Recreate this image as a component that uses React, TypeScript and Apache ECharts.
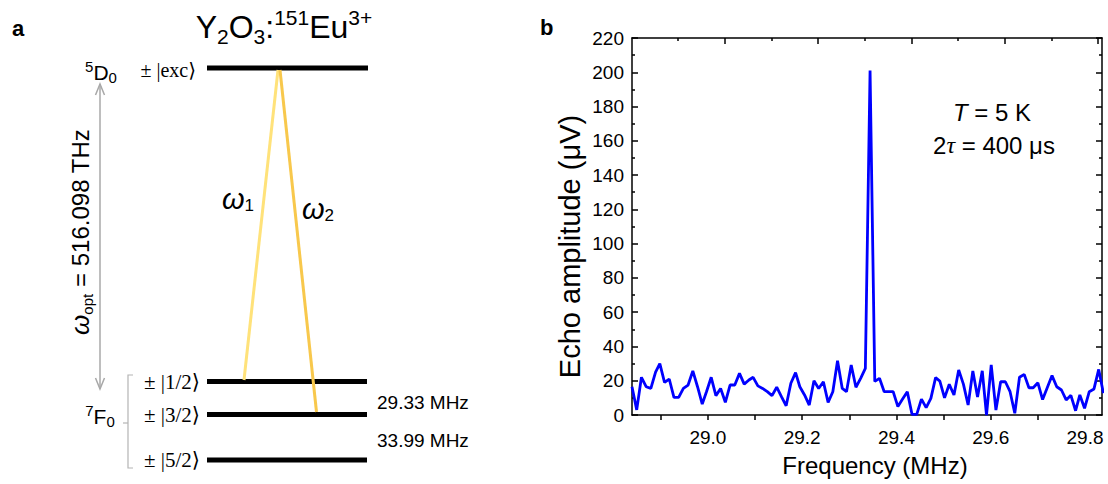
import React, { useEffect, useRef } from "react";
import * as echarts from "echarts";

// ---- data (panel b) ----
const freqMHz = [
  28.839, 28.849, 28.859, 28.869, 28.879, 28.889, 28.898, 28.908, 28.918, 28.928,
  28.938, 28.948, 28.958, 28.968, 28.978, 28.988, 28.997, 29.007, 29.017, 29.027,
  29.037, 29.047, 29.057, 29.067, 29.077, 29.087, 29.096, 29.106, 29.116, 29.126,
  29.136, 29.146, 29.156, 29.166, 29.176, 29.186, 29.195, 29.205, 29.215, 29.225,
  29.235, 29.245, 29.255, 29.265, 29.275, 29.285, 29.294, 29.304, 29.314, 29.324,
  29.334, 29.344, 29.354, 29.364, 29.374, 29.384, 29.393, 29.403, 29.413, 29.423,
  29.433, 29.443, 29.453, 29.463, 29.473, 29.483, 29.492, 29.502, 29.512, 29.522,
  29.532, 29.542, 29.552, 29.562, 29.572, 29.582, 29.591, 29.601, 29.611, 29.621,
  29.631, 29.641, 29.651, 29.661, 29.671, 29.681, 29.69, 29.7, 29.71, 29.72,
  29.73, 29.74, 29.75, 29.76, 29.77, 29.78, 29.789, 29.799, 29.809, 29.819,
  29.829, 29.839,
];
const echoUV = [
  16.5, 3, 22, 16.5, 15.5, 25, 30, 19, 21, 10.3,
  10.3, 15.5, 17.5, 25.7, 16.5, 6.4, 13.6, 22, 11.3, 15.5,
  7.4, 17.5, 17.5, 24.3, 18, 20.4, 22, 17, 15.5, 13.6,
  11.3, 16.2, 10.7, 5.4, 18.5, 24.7, 16.5, 11.7, 5.8, 20,
  15.5, 19.4, 7.4, 13.6, 31.7, 15.5, 13.6, 29.2, 16.2, 21.4,
  27.2, 201, 19.6, 21.4, 13.6, 13.6, 13.6, 4.9, 9.3, 13.6,
  0.4, 0.4, 9.3, 4.3, 9.7, 21.8, 19.8, 10, 17.9, 11.7,
  26.3, 18, 5.8, 25.7, 10.5, 25.8, 0, 29.2, 2.9, 19.4,
  19.4, 13.6, 1, 22, 23.7, 15.9, 15.9, 18.8, 9, 16,
  23, 16.5, 14.6, 8.8, 11.5, 2.5, 11.7, 3.9, 13.6, 15.2,
  26.6, 12.7,
];
const xTickValues = [28.9, 29.0, 29.1, 29.2, 29.3, 29.4, 29.5, 29.6, 29.7, 29.8];
const xLabelValues = [29.0, 29.2, 29.4, 29.6, 29.8];
const topMajorTicks = [29.036, 29.234, 29.432, 29.63, 29.828];
const topMinorTicks = [28.937, 29.135, 29.333, 29.531, 29.729];

const SANS = "'Liberation Sans', Arial, sans-serif";
const SERIF = "'Liberation Serif', 'DejaVu Serif', serif";

export default function App() {
  const ref = useRef<HTMLDivElement>(null);
  useEffect(() => {
    if (!ref.current) return;
    const chart = echarts.init(ref.current, undefined, { renderer: "svg" });
    const axisLineStyle = { color: "#000", width: 1.5 };
    const xMin = 28.839;
    const xMax = 29.836;

    const graphic: any[] = [
      // panel letters
      { type: "text", x: 12, y: 28, style: { text: "a", font: `bold 22px ${SANS}`, fill: "#000", verticalAlign: "middle" } },
      { type: "text", x: 540, y: 27, style: { text: "b", font: `bold 22px ${SANS}`, fill: "#000", verticalAlign: "middle" } },
      // title
      {
        type: "text", x: 284, y: 27,
        style: {
          text: "{n|Y}{sub|2}{n|O}{sub|3}{n|:}{sup|151}{n|Eu}{sup|3+}",
          align: "center", verticalAlign: "middle",
          rich: {
            n: { fontSize: 32, fontFamily: SANS, lineHeight: 40, fill: "#000" },
            sub: { fontSize: 21, fontFamily: SANS, lineHeight: 24, verticalAlign: "bottom", fill: "#000" },
            sup: { fontSize: 21, fontFamily: SANS, lineHeight: 26, verticalAlign: "top", fill: "#000" },
          },
        },
      },
      // energy levels
      { type: "line", shape: { x1: 207, y1: 68, x2: 368, y2: 68 }, style: { stroke: "#000", lineWidth: 5 } },
      { type: "line", shape: { x1: 207, y1: 381.5, x2: 367, y2: 381.5 }, style: { stroke: "#000", lineWidth: 5 } },
      { type: "line", shape: { x1: 207, y1: 414.5, x2: 367, y2: 414.5 }, style: { stroke: "#000", lineWidth: 5 } },
      { type: "line", shape: { x1: 207, y1: 460, x2: 367, y2: 460 }, style: { stroke: "#000", lineWidth: 5 } },
      // optical transitions
      { type: "line", shape: { x1: 278, y1: 70, x2: 244, y2: 380 }, style: { stroke: "#FFE27A", lineWidth: 3 } },
      { type: "line", shape: { x1: 280, y1: 70, x2: 316.5, y2: 412 }, style: { stroke: "#F8C84C", lineWidth: 3 } },
      {
        type: "text", x: 238, y: 199,
        style: {
          text: "{w|ω}{s|1}", align: "center", verticalAlign: "middle",
          rich: {
            w: { fontSize: 29, fontFamily: SANS, fontStyle: "italic", lineHeight: 30, fill: "#000" },
            s: { fontSize: 17, fontFamily: SANS, lineHeight: 22, verticalAlign: "bottom", fill: "#000" },
          },
        },
      },
      {
        type: "text", x: 318, y: 209,
        style: {
          text: "{w|ω}{s|2}", align: "center", verticalAlign: "middle",
          rich: {
            w: { fontSize: 29, fontFamily: SANS, fontStyle: "italic", lineHeight: 30, fill: "#000" },
            s: { fontSize: 17, fontFamily: SANS, lineHeight: 22, verticalAlign: "bottom", fill: "#000" },
          },
        },
      },
      // state labels
      { type: "text", x: 196, y: 70, style: { text: "± |exc⟩", font: `20px ${SERIF}`, fill: "#000", align: "right", verticalAlign: "middle" } },
      { type: "text", x: 200, y: 381.5, style: { text: "± |1/2⟩", font: `21px ${SERIF}`, fill: "#000", align: "right", verticalAlign: "middle" } },
      { type: "text", x: 200, y: 414.5, style: { text: "± |3/2⟩", font: `21px ${SERIF}`, fill: "#000", align: "right", verticalAlign: "middle" } },
      { type: "text", x: 200, y: 460, style: { text: "± |5/2⟩", font: `21px ${SERIF}`, fill: "#000", align: "right", verticalAlign: "middle" } },
      // term symbols
      {
        type: "text", x: 101, y: 72,
        style: {
          text: "{sup|5}{n|D}{sub|0}", align: "center", verticalAlign: "middle",
          rich: {
            n: { fontSize: 21, fontFamily: SANS, lineHeight: 26, fill: "#000" },
            sub: { fontSize: 15, fontFamily: SANS, lineHeight: 16, verticalAlign: "bottom", fill: "#000" },
            sup: { fontSize: 15, fontFamily: SANS, lineHeight: 18, verticalAlign: "top", fill: "#000" },
          },
        },
      },
      {
        type: "text", x: 100, y: 416,
        style: {
          text: "{sup|7}{n|F}{sub|0}", align: "center", verticalAlign: "middle",
          rich: {
            n: { fontSize: 21, fontFamily: SANS, lineHeight: 26, fill: "#000" },
            sub: { fontSize: 15, fontFamily: SANS, lineHeight: 16, verticalAlign: "bottom", fill: "#000" },
            sup: { fontSize: 15, fontFamily: SANS, lineHeight: 18, verticalAlign: "top", fill: "#000" },
          },
        },
      },
      // bracket
      { type: "polyline", shape: { points: [[133, 375], [128, 375], [128, 468], [133, 468]] }, style: { stroke: "#b4b4b4", lineWidth: 1.2, fill: null } },
      { type: "line", shape: { x1: 123, y1: 423, x2: 128, y2: 423 }, style: { stroke: "#b4b4b4", lineWidth: 1.2 } },
      // double arrow
      { type: "line", shape: { x1: 100, y1: 84, x2: 100, y2: 389 }, style: { stroke: "#a8a8a8", lineWidth: 1.5 } },
      { type: "polyline", shape: { points: [[95.5, 95], [100, 84], [104.5, 95]] }, style: { stroke: "#a8a8a8", lineWidth: 1.5, fill: null } },
      { type: "polyline", shape: { points: [[95.5, 378], [100, 389], [104.5, 378]] }, style: { stroke: "#a8a8a8", lineWidth: 1.5, fill: null } },
      // optical frequency label (rotated)
      {
        type: "text", x: 80, y: 232, rotation: Math.PI / 2,
        style: {
          text: "{w|ω}{s|opt}{n| = 516.098 THz}", align: "center", verticalAlign: "middle",
          rich: {
            w: { fontSize: 26, fontFamily: SANS, fontStyle: "italic", lineHeight: 30, fill: "#000" },
            s: { fontSize: 15, fontFamily: SANS, lineHeight: 22, verticalAlign: "bottom", fill: "#000" },
            n: { fontSize: 24, fontFamily: SANS, lineHeight: 30, fill: "#000" },
          },
        },
      },
      // hyperfine splittings
      { type: "text", x: 377, y: 402, style: { text: "29.33 MHz", font: `19px ${SANS}`, fill: "#000", verticalAlign: "middle" } },
      { type: "text", x: 377, y: 440, style: { text: "33.99 MHz", font: `19px ${SANS}`, fill: "#000", verticalAlign: "middle" } },
      // panel b annotations
      {
        type: "text", x: 992, y: 112,
        style: {
          text: "{i|T}{n| = 5 K}", align: "center", verticalAlign: "middle",
          rich: {
            i: { fontSize: 24, fontFamily: SANS, fontStyle: "italic", fill: "#000" },
            n: { fontSize: 24, fontFamily: SANS, fill: "#000" },
          },
        },
      },
      {
        type: "text", x: 994, y: 145,
        style: {
          text: "{n|2}{t|τ}{n| = 400 μs}", align: "center", verticalAlign: "middle",
          rich: {
            t: { fontSize: 24, fontFamily: SERIF, fontStyle: "italic", fill: "#000" },
            n: { fontSize: 24, fontFamily: SANS, fill: "#000" },
          },
        },
      },
    ];

    const option: any = {
      animation: false,
      backgroundColor: "#fff",
      grid: { left: 632, right: 6, top: 38, bottom: 69, containLabel: false },
      xAxis: [
        {
          type: "value", position: "bottom", min: xMin, max: xMax,
          axisLine: { show: true, onZero: false, lineStyle: axisLineStyle },
          axisTick: { show: true, inside: false, length: 5, customValues: xTickValues, lineStyle: axisLineStyle },
          axisLabel: {
            customValues: xLabelValues, formatter: (v: number) => v.toFixed(1),
            fontSize: 19, fontFamily: SANS, color: "#000", margin: 13,
          },
          splitLine: { show: false },
          name: "Frequency (MHz)", nameLocation: "middle", nameGap: 38,
          nameTextStyle: { fontSize: 24, fontFamily: SANS, color: "#000", padding: [0, 0, 0, 16] },
        },
        {
          type: "value", position: "top", min: xMin, max: xMax,
          axisLine: { show: true, onZero: false, lineStyle: axisLineStyle },
          axisTick: { show: true, inside: true, length: 6, customValues: topMajorTicks, lineStyle: axisLineStyle },
          axisLabel: { show: false }, splitLine: { show: false },
        },
        {
          type: "value", position: "top", min: xMin, max: xMax,
          axisLine: { show: false, onZero: false },
          axisTick: { show: true, inside: true, length: 3, customValues: topMinorTicks, lineStyle: axisLineStyle },
          axisLabel: { show: false }, splitLine: { show: false },
        },
      ],
      yAxis: [
        {
          type: "value", position: "left", min: 0, max: 220, interval: 20,
          axisLine: { show: true, onZero: false, lineStyle: axisLineStyle },
          axisTick: { show: true, inside: true, length: 6, lineStyle: axisLineStyle },
          minorTick: { show: true, splitNumber: 2, length: 3, lineStyle: axisLineStyle },
          axisLabel: { fontSize: 19, fontFamily: SANS, color: "#000", margin: 8 },
          splitLine: { show: false },
          name: "Echo amplitude (μV)", nameLocation: "middle", nameGap: 48, nameRotate: 90,
          nameTextStyle: { fontSize: 29, fontFamily: SANS, color: "#000", padding: [0, 40, 0, 0] },
        },
        {
          type: "value", position: "right", min: 0, max: 220, interval: 20,
          axisLine: { show: true, onZero: false, lineStyle: axisLineStyle },
          axisTick: { show: true, inside: true, length: 6, lineStyle: axisLineStyle },
          minorTick: { show: true, splitNumber: 2, length: 3, lineStyle: axisLineStyle },
          axisLabel: { show: false }, splitLine: { show: false },
        },
      ],
      series: [
        {
          type: "line", xAxisIndex: 0, yAxisIndex: 0,
          data: freqMHz.map((f, i) => [f, echoUV[i]]),
          showSymbol: false, clip: true,
          lineStyle: { color: "#0000ff", width: 2.8 },
        },
      ],
      graphic,
    };
    chart.setOption(option);
    return () => chart.dispose();
  }, []);
  return (
    <div
      ref={ref}
      style={{ position: "fixed", left: 0, top: 0, width: 1108, height: 484, background: "#fff" }}
    />
  );
}
